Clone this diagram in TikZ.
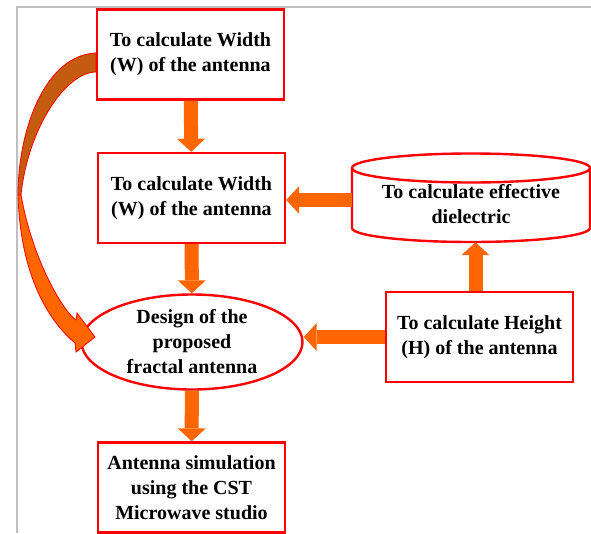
\documentclass[tikz,border=0pt]{standalone}
\usepackage{fontspec}
\setmainfont{Liberation Serif}
\usetikzlibrary{arrows.meta,shapes.geometric}
\definecolor{boxred}{HTML}{FF0000}
\definecolor{arrorange}{HTML}{FF6600}
\definecolor{darkorange}{HTML}{C55A11}
\definecolor{framegray}{HTML}{BFBFBF}
\begin{document}
\begin{tikzpicture}[x=1pt,y=-1pt,
  font=\fontsize{20}{25}\selectfont\bfseries,
  txt/.style={align=center,inner sep=0pt,execute at begin node={\rule{0pt}{22pt}}},
  box/.style={txt,draw=boxred,line width=2.4pt,minimum width=187pt,minimum height=90pt},
  oval/.style={txt,ellipse,draw=boxred,line width=2.4pt,minimum width=221pt,minimum height=95pt},
  blk/.style={draw=arrorange,line width=14pt,-{Triangle[width=28pt,length=13pt,line width=0pt]}},
  rim/.style={draw=boxred,line width=2.4pt}]
\useasboundingbox (0,0) rectangle (591,533);
% frame
\draw[framegray,line width=1.2pt] (17,533) -- (17,7) -- (591,7);
% left column
\node[box] (wid1) at (190.5,54.5)  {To calculate Width\\(W) of the antenna};
\node[box] (wid2) at (191.5,198)   {To calculate Width\\(W) of the antenna};
\node[oval] (design) at (192,342)  {Design of the\\proposed\\fractal antenna};
\node[box] (sim) at (191.5,487.5)  {Antenna simulation\\using the CST\\Microwave studio};
% right column
\node[txt,minimum width=238pt,minimum height=76pt] (diel) at (471,204) {To calculate effective\\dielectric};
\draw[rim] (471,168) ellipse [x radius=119pt,y radius=14.5pt];
\draw[rim] (352,168) -- (352,228) arc[start angle=180,end angle=360,x radius=119pt,y radius=14pt] -- (590,168);
\node[box] (hgt) at (479.5,337) {To calculate Height\\(H) of the antenna};
% block arrows
\draw[blk] (wid1) -- (wid2);
\draw[blk] (wid2) -- (design);
\draw[blk] (design) -- (sim);
\draw[blk] ([yshift=4pt]diel.west) -- ([yshift=4pt]wid2.east |- diel.west);
\draw[blk] ([xshift=-4pt]hgt.north) -- ([xshift=-4pt]hgt.north |- diel.south);
\draw[blk] (hgt.west) -- (design.east |- hgt.west);
% curved arrow
\filldraw[fill=darkorange,draw=boxred,line width=0.8pt]
  (96,53) .. controls (45,55) and (18,130) .. (18,195) -- (21,195)
  .. controls (28,128) and (66,72) .. (96,72) -- cycle;
\filldraw[fill=arrorange,draw=boxred,line width=0.8pt]
  (18,195) .. controls (20,265) and (42,315) .. (75,343) -- (76,352) -- (95,337)
  -- (77,313) -- (76,320) .. controls (64,312) and (33,262) .. (21,195) -- cycle;
\end{tikzpicture}
\end{document}
